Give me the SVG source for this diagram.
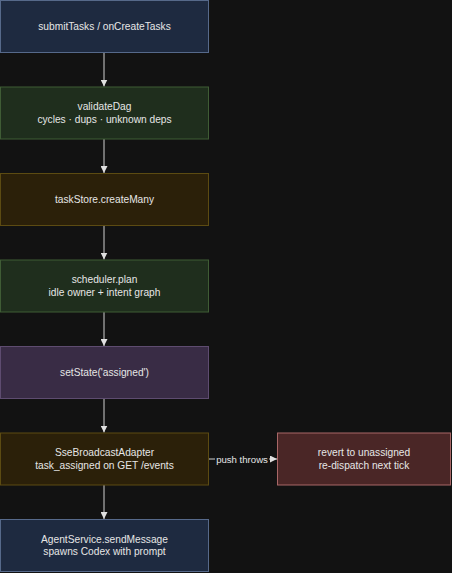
<svg xmlns="http://www.w3.org/2000/svg" width="452" height="573" viewBox="0 0 452 573">
<defs>
<style>
.n rect{stroke-width:1}
.t{font-family:"Liberation Sans",Arial,sans-serif;font-size:10.2px;fill:#e6e6e6;text-anchor:middle}
.blue rect{fill:#1e2a40;stroke:#56698a}
.green rect{fill:#1f2e1d;stroke:#3f5c35}
.brown rect{fill:#2b2009;stroke:#5c4b12}
.purple rect{fill:#392c45;stroke:#5e4c70}
.red rect{fill:#4a2626;stroke:#a86767}
.e line{stroke:#cfcfcf;stroke-width:1}
</style>
<marker id="ah" viewBox="0 0 10 10" refX="10" refY="5" markerWidth="7" markerHeight="7" markerUnits="userSpaceOnUse" orient="auto">
<path d="M0,0 L10,5 L0,10 z" fill="#e0e0e0"/>
</marker>
</defs>
<rect width="452" height="573" fill="#121212"/>
<g id="edges" class="e">
<line x1="104" y1="52.5" x2="104" y2="86.5" marker-end="url(#ah)"/>
<line x1="104" y1="139" x2="104" y2="173" marker-end="url(#ah)"/>
<line x1="104" y1="225.5" x2="104" y2="259.5" marker-end="url(#ah)"/>
<line x1="104" y1="312" x2="104" y2="346" marker-end="url(#ah)"/>
<line x1="104" y1="398.5" x2="104" y2="432.5" marker-end="url(#ah)"/>
<line x1="104" y1="485" x2="104" y2="519" marker-end="url(#ah)"/>
<line x1="208.5" y1="459" x2="277" y2="459" marker-end="url(#ah)"/>
<rect x="215" y="452" width="54" height="14" fill="#121212"/>
<text class="t" x="242" y="462.5" style="font-size:9.6px">push throws</text>
</g>
<g id="n1" class="n blue">
<rect x="0.5" y="0.5" width="208" height="52"/>
<text class="t" x="104.5" y="29.8">submitTasks / onCreateTasks</text>
</g>
<g id="n2" class="n green">
<rect x="0.5" y="87" width="208" height="52"/>
<text class="t" x="104.5" y="110.3">validateDag</text>
<text class="t" x="104.5" y="122.6">cycles · dups · unknown deps</text>
</g>
<g id="n3" class="n brown">
<rect x="0.5" y="173.5" width="208" height="52"/>
<text class="t" x="104.5" y="203">taskStore.createMany</text>
</g>
<g id="n4" class="n green">
<rect x="0.5" y="260" width="208" height="52"/>
<text class="t" x="104.5" y="283.3">scheduler.plan</text>
<text class="t" x="104.5" y="295.6">idle owner + intent graph</text>
</g>
<g id="n5" class="n purple">
<rect x="0.5" y="346.5" width="208" height="52"/>
<text class="t" x="104.5" y="376">setState('assigned')</text>
</g>
<g id="n6" class="n brown">
<rect x="0.5" y="433" width="208" height="52"/>
<text class="t" x="104.5" y="456.3">SseBroadcastAdapter</text>
<text class="t" x="104.5" y="468.6">task_assigned on GET /events</text>
</g>
<g id="n7" class="n red">
<rect x="277.5" y="433" width="173" height="52"/>
<text class="t" x="364" y="456.3">revert to unassigned</text>
<text class="t" x="364" y="468.6">re-dispatch next tick</text>
</g>
<g id="n8" class="n blue">
<rect x="0.5" y="519.5" width="208" height="52"/>
<text class="t" x="104.5" y="542.8">AgentService.sendMessage</text>
<text class="t" x="104.5" y="555.1">spawns Codex with prompt</text>
</g>
</svg>
